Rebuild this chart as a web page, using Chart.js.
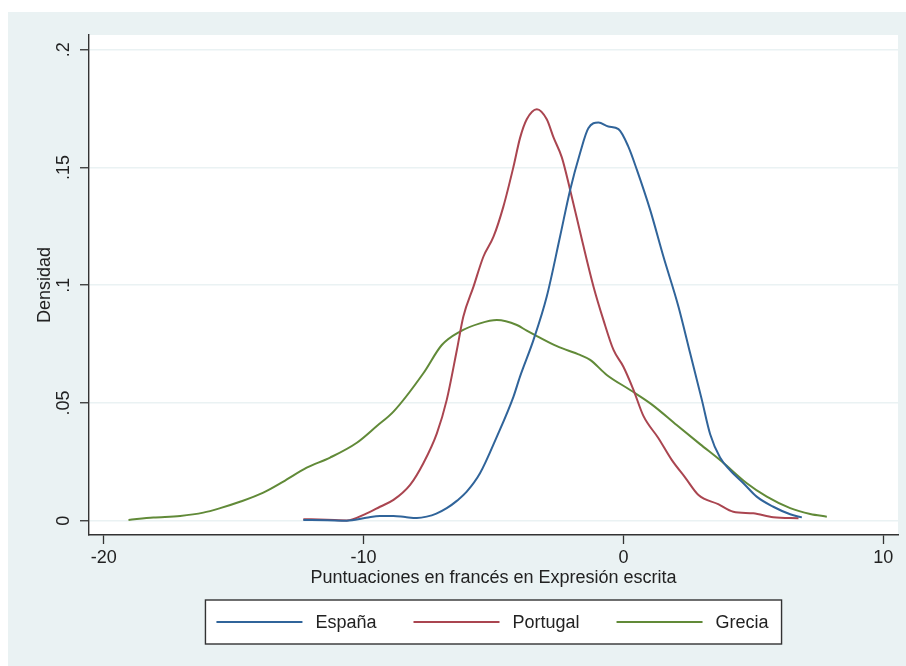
<!DOCTYPE html>
<html>
<head>
<meta charset="utf-8">
<script src="https://cdn.jsdelivr.net/npm/chart.js@4.4.1/dist/chart.umd.min.js"></script>
<style>
  html, body { margin: 0; padding: 0; background: #ffffff; }
  #wrap { position: relative; width: 906px; height: 666px; }
</style>
</head>
<body>
<div id="wrap"><canvas id="c" width="906" height="666"></canvas></div>
<script>
// Kernel density estimates of written-expression scores in French
const seriesNames = ['España', 'Portugal', 'Grecia'];

const espanaX = [-12.32, -11.4, -10.65, -9.9, -9.37, -8.85, -8.4, -7.95, -7.57, -7.2, -6.8, -6.4, -6.03, -5.52, -4.87, -4.23, -3.98, -3.46, -2.95, -2.44, -2.05, -1.67, -1.35, -0.96, -0.58, -0.19, 0.19, 0.52, 1.03, 1.54, 2.12, 2.57, 3.02, 3.34, 3.72, 4.1, 4.62, 5.13, 5.77, 6.42, 6.87];
const espanaY = [0.0003, 0.0002, 0.0, 0.0012, 0.002, 0.002, 0.0015, 0.0011, 0.0017, 0.003, 0.0053, 0.0085, 0.0123, 0.0201, 0.0357, 0.0527, 0.0612, 0.0768, 0.0952, 0.1206, 0.1405, 0.1561, 0.1667, 0.1691, 0.1674, 0.1663, 0.1589, 0.149, 0.132, 0.1122, 0.0909, 0.0711, 0.0513, 0.0367, 0.0268, 0.0215, 0.0159, 0.0102, 0.0059, 0.0027, 0.0014];

const portugalX = [-12.32, -11.42, -10.65, -9.88, -9.37, -8.85, -8.21, -7.7, -7.18, -6.8, -6.41, -6.16, -5.77, -5.39, -5.0, -4.62, -4.23, -3.98, -3.72, -3.33, -2.95, -2.69, -2.37, -2.05, -1.6, -1.15, -0.77, -0.38, 0.0, 0.38, 0.77, 1.35, 1.86, 2.38, 2.89, 3.65, 4.23, 5.0, 5.77, 6.74];
const portugalY = [0.0006, 0.0004, 0.0001, 0.0031, 0.0059, 0.0088, 0.0152, 0.0244, 0.0371, 0.0513, 0.0725, 0.0867, 0.0994, 0.1121, 0.1206, 0.1334, 0.1504, 0.1625, 0.1705, 0.1748, 0.1705, 0.1628, 0.1543, 0.1405, 0.1195, 0.0994, 0.0853, 0.0725, 0.0654, 0.0558, 0.0445, 0.035, 0.0258, 0.0183, 0.0109, 0.007, 0.0038, 0.0031, 0.0014, 0.001];

const greciaX = [-19.05, -18.09, -17.06, -16.17, -15.52, -14.76, -13.86, -13.09, -12.19, -11.29, -10.26, -9.49, -8.85, -7.7, -6.99, -6.29, -5.52, -4.87, -4.1, -3.72, -3.33, -2.56, -1.67, -1.28, -0.64, 0.26, 1.1, 2.05, 2.95, 3.8, 4.75, 5.52, 6.42, 7.19, 7.83];
const greciaY = [0.0003, 0.0013, 0.002, 0.0034, 0.0053, 0.008, 0.0119, 0.0166, 0.0225, 0.0268, 0.0331, 0.0402, 0.0463, 0.0626, 0.0746, 0.0803, 0.0838, 0.0852, 0.0831, 0.0807, 0.0784, 0.0741, 0.0704, 0.0683, 0.0619, 0.0555, 0.0493, 0.0406, 0.0325, 0.025, 0.0159, 0.0102, 0.0053, 0.0028, 0.0017];

const xTickValues = [-20, -10, 0, 10];
const yTickValues = [0, 0.05, 0.1, 0.15, 0.2];
const yTickLabels = ['0', '.05', '.1', '.15', '.2'];

const xTitle = 'Puntuaciones en francés en Expresión escrita';
const yTitle = 'Densidad';

const colors = ['#30649a', '#aa4550', '#618a38'];
const FONT = 'Liberation Sans, Arial, Helvetica, sans-serif';
const BG = '#eaf2f3';
const INK = '#222222';

function toPoints(xs, ys) {
  return xs.map((x, i) => ({ x: x, y: ys[i] }));
}

// Outer grey-blue frame and white plot region
const backgroundPlugin = {
  id: 'stataBackground',
  beforeDraw(chart) {
    const { ctx, chartArea: a } = chart;
    ctx.save();
    ctx.fillStyle = '#ffffff';
    ctx.fillRect(0, 0, chart.width, chart.height);
    ctx.fillStyle = BG;
    ctx.fillRect(8, 12, chart.width - 8, chart.height - 12);
    ctx.fillStyle = '#ffffff';
    ctx.fillRect(a.left, a.top, a.right - a.left, a.bottom - a.top);
    ctx.restore();
  }
};

// Boxed legend row below the x-axis title
const boxedLegendPlugin = {
  id: 'boxedLegend',
  afterDraw(chart) {
    const { ctx, chartArea: a } = chart;
    const ds = chart.data.datasets;
    ctx.save();
    ctx.font = '18px ' + FONT;
    const lineLen = 86, gapText = 13, gapItem = 37, padL = 11, padR = 13;
    const widths = ds.map(d => ctx.measureText(d.label).width);
    let total = padL + padR;
    widths.forEach((w, i) => { total += lineLen + gapText + w + (i < ds.length - 1 ? gapItem : 0); });
    const cx = (a.left + a.right) / 2;
    const boxLeft = cx - total / 2;
    const boxTop = 600, boxH = 44;
    ctx.fillStyle = '#ffffff';
    ctx.fillRect(boxLeft, boxTop, total, boxH);
    ctx.strokeStyle = '#333333';
    ctx.lineWidth = 1.4;
    ctx.strokeRect(boxLeft, boxTop, total, boxH);
    const midY = boxTop + boxH / 2;
    let x = boxLeft + padL;
    ds.forEach((d, i) => {
      ctx.strokeStyle = d.borderColor;
      ctx.lineWidth = 2;
      ctx.beginPath();
      ctx.moveTo(x, midY);
      ctx.lineTo(x + lineLen, midY);
      ctx.stroke();
      x += lineLen + gapText;
      ctx.fillStyle = INK;
      ctx.textAlign = 'left';
      ctx.textBaseline = 'middle';
      ctx.fillText(d.label, x, midY + 1);
      x += widths[i] + gapItem;
    });
    ctx.restore();
  }
};

const datasets = [
  { label: seriesNames[0], data: toPoints(espanaX, espanaY) },
  { label: seriesNames[1], data: toPoints(portugalX, portugalY) },
  { label: seriesNames[2], data: toPoints(greciaX, greciaY) }
].map((d, i) => Object.assign(d, {
  borderColor: colors[i],
  backgroundColor: colors[i],
  borderWidth: 2,
  pointRadius: 0,
  fill: false,
  cubicInterpolationMode: 'monotone'
}));

new Chart(document.getElementById('c'), {
  type: 'line',
  data: { datasets: datasets },
  plugins: [backgroundPlugin, boxedLegendPlugin],
  options: {
    responsive: false,
    animation: false,
    events: [],
    layout: { padding: { top: 35, right: 8, left: 0, bottom: 0 } },
    plugins: { legend: { display: false }, tooltip: { enabled: false } },
    scales: {
      x: {
        type: 'linear',
        min: -20.57,
        max: 10.57,
        afterBuildTicks: s => { s.ticks = xTickValues.map(v => ({ value: v })); },
        afterFit: s => { s.height = 131; },
        ticks: {
          color: INK,
          font: { family: FONT, size: 18 },
          padding: 3,
          maxRotation: 0,
          callback: v => String(v)
        },
        grid: { drawOnChartArea: false, tickLength: 9, tickColor: '#333333', tickWidth: 1.3 },
        border: { color: '#333333', width: 1.4 },
        title: {
          display: true,
          text: xTitle,
          color: INK,
          font: { family: FONT, size: 18 },
          padding: { top: 0, bottom: 77 }
        }
      },
      y: {
        type: 'linear',
        min: -0.0061,
        max: 0.2063,
        afterBuildTicks: s => { s.ticks = yTickValues.map(v => ({ value: v })); },
        afterFit: s => { s.width = 89; },
        ticks: {
          color: INK,
          font: { family: FONT, size: 18 },
          padding: 3.5,
          minRotation: 90,
          maxRotation: 90,
          crossAlign: 'center',
          callback: (v, i) => yTickLabels[i]
        },
        grid: { color: BG, lineWidth: 1.5, tickLength: 9, tickColor: '#333333', tickWidth: 1.3 },
        border: { color: '#333333', width: 1.4 },
        title: {
          display: true,
          text: yTitle,
          color: INK,
          font: { family: FONT, size: 18 },
          padding: { top: 34 }
        }
      }
    }
  }
});
</script>
</body>
</html>
